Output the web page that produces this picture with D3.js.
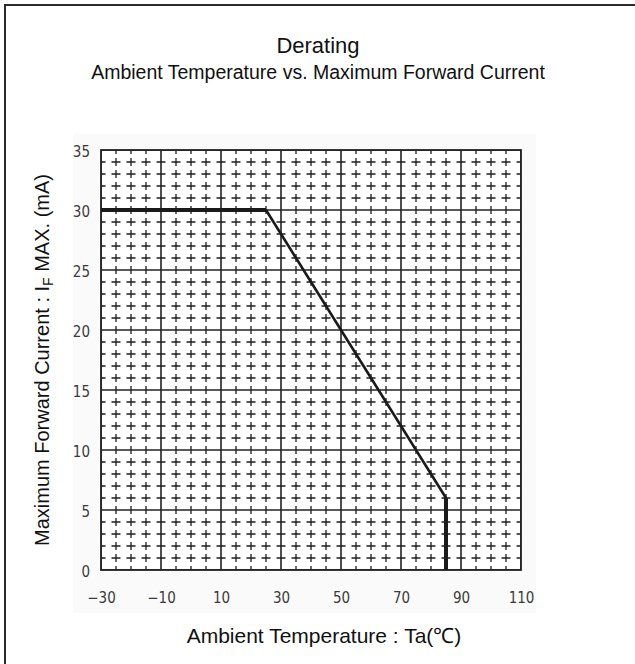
<!DOCTYPE html>
<html><head><meta charset="utf-8">
<script src="https://cdn.jsdelivr.net/npm/d3@7"></script>
<style>body{margin:0;background:#fff}</style>
</head><body>
<svg id="c" width="635" height="664"></svg>
<script>
const title = "Derating";
const subtitle = "Ambient Temperature vs. Maximum Forward Current";
const xLabel = "Ambient Temperature : Ta(℃)";
const yLabelMain = "Maximum Forward Current : I";
const yLabelSub = "F";
const yLabelTail = " MAX. (mA)";
const temperature = [-30, 25, 85, 85];
const maxCurrent = [30, 30, 6, 0];
const xTickValues = [-30, -10, 10, 30, 50, 70, 90, 110];
const yTickValues = [0, 5, 10, 15, 20, 25, 30, 35];
const xDomain = [-30, 110];
const yDomain = [0, 35];
const xMinorStep = 5, yMinorStep = 1;

const svg = d3.select("#c");
const x = d3.scaleLinear().domain(xDomain).range([101, 521]);
const y = d3.scaleLinear().domain(yDomain).range([570, 150]);
const [x0, x1] = x.range(), [y0, y1] = y.range();

// outer frame
svg.append("rect").attr("x", 5).attr("y", 5).attr("width", 640).attr("height", 670)
  .attr("fill", "#fff").attr("stroke", "#2a2a2a").attr("stroke-width", 2);
// light raster background region
svg.append("rect").attr("x", 73).attr("y", 134).attr("width", 463).attr("height", 479).attr("fill", "#fafafa");
svg.append("rect").attr("x", x0).attr("y", y1).attr("width", x1 - x0).attr("height", y0 - y1).attr("fill", "#fff");

// titles
svg.append("text").attr("x", 318).attr("y", 53).attr("text-anchor", "middle")
  .attr("font-family", "Liberation Sans, Arial, sans-serif").attr("font-size", 22).attr("fill", "#111").text(title);
svg.append("text").attr("x", 318).attr("y", 79).attr("text-anchor", "middle")
  .attr("font-family", "Liberation Sans, Arial, sans-serif").attr("font-size", 19.5).attr("fill", "#111").text(subtitle);

// clip
svg.append("clipPath").attr("id", "plotclip").append("rect")
  .attr("x", x0).attr("y", y1).attr("width", x1 - x0).attr("height", y0 - y1);
const g = svg.append("g").attr("clip-path", "url(#plotclip)");

const xMinor = d3.range(xDomain[0], xDomain[1] + 0.001, xMinorStep).filter(v => !xTickValues.includes(v));
const yMinor = d3.range(yDomain[0], yDomain[1] + 0.001, yMinorStep).filter(v => !yTickValues.includes(v));
const ySpacing = y(0) - y(1), xSpacing = x(xMinorStep) - x(0);

g.selectAll("line.vminor").data(xMinor).join("line").attr("class", "vminor")
  .attr("x1", d => x(d)).attr("x2", d => x(d))
  .attr("y1", y1 - 4).attr("y2", y0 + 4)
  .attr("stroke", "#1e1e1e").attr("stroke-width", 1.3)
  .attr("stroke-dasharray", `8,${ySpacing - 8}`);
g.selectAll("line.hminor").data(yMinor).join("line").attr("class", "hminor")
  .attr("y1", d => y(d)).attr("y2", d => y(d))
  .attr("x1", x0 - 4.5).attr("x2", x1 + 4.5)
  .attr("stroke", "#1e1e1e").attr("stroke-width", 1.3)
  .attr("stroke-dasharray", `9,${xSpacing - 9}`);

// major grid
g.selectAll("line.vmajor").data(xTickValues).join("line")
  .attr("x1", d => x(d)).attr("x2", d => x(d)).attr("y1", y1).attr("y2", y0)
  .attr("stroke", "#222").attr("stroke-width", 1.6);
g.selectAll("line.hmajor").data(yTickValues).join("line")
  .attr("y1", d => y(d)).attr("y2", d => y(d)).attr("x1", x0).attr("x2", x1)
  .attr("stroke", "#222").attr("stroke-width", 1.6);

svg.append("rect").attr("x", x0).attr("y", y1).attr("width", x1 - x0).attr("height", y0 - y1)
  .attr("fill", "none").attr("stroke", "#222").attr("stroke-width", 1.8);

// derating curve
const pts = temperature.map((t, i) => [t, maxCurrent[i]]);
for (let i = 0; i < pts.length - 1; i++) {
  const a = pts[i], b = pts[i + 1];
  const straight = a[0] === b[0] || a[1] === b[1];
  svg.append("line")
    .attr("x1", x(a[0])).attr("y1", y(a[1])).attr("x2", x(b[0])).attr("y2", y(b[1]))
    .attr("stroke", "#1a1a1a").attr("stroke-width", straight ? 4 : 2.6)
    .attr("stroke-linecap", "butt");
}

// axes labels
const fmt = d => d < 0 ? "\u2212" + Math.abs(d) : String(d);
const tickFont = "Liberation Sans Narrow, DejaVu Sans Condensed, sans-serif";
const xAxis = svg.append("g").attr("transform", `translate(0,${y0})`)
  .call(d3.axisBottom(x).tickValues(xTickValues).tickSize(0).tickPadding(22).tickFormat(fmt));
xAxis.select(".domain").remove();
xAxis.selectAll("text").attr("font-family", tickFont).attr("font-size", 15).attr("fill", "#3a3a3a");
const yAxis = svg.append("g").attr("transform", `translate(${x0},0)`)
  .call(d3.axisLeft(y).tickValues(yTickValues).tickSize(0).tickPadding(11).tickFormat(fmt));
yAxis.select(".domain").remove();
yAxis.selectAll("text").attr("font-family", tickFont).attr("font-size", 15).attr("fill", "#3a3a3a").attr("dy", "0.45em");

svg.append("text").attr("x", 324).attr("y", 643).attr("text-anchor", "middle")
  .attr("font-family", "Liberation Sans, Arial, sans-serif").attr("font-size", 21).attr("fill", "#111").text(xLabel);

const yl = svg.append("text").attr("transform", "translate(49,360) rotate(-90)").attr("text-anchor", "middle")
  .attr("font-family", "Liberation Sans, Arial, sans-serif").attr("font-size", 20).attr("fill", "#111");
yl.append("tspan").text(yLabelMain);
yl.append("tspan").attr("font-size", 14).attr("dy", 4).text(yLabelSub);
yl.append("tspan").attr("dy", -4).text(yLabelTail);
</script>
</body></html>
